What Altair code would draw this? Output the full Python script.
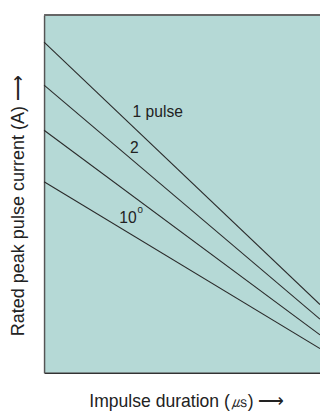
import altair as alt
import pandas as pd

# Line endpoints (abstract log-scaled units)
series = ["1 pulse", "2", "3", "10^6"]
x_start = [0, 0, 0, 0]
x_end = [10, 10, 10, 10]
y_start = [92.4, 80.4, 67.8, 53.4]
y_end = [19.1, 15.0, 10.6, 6.8]

# Curve labels
label_text = ["1 pulse", "2", "10", "0"]
label_x = [4.12, 3.27, 3.04, 3.48]
label_y = [73.0, 62.9, 43.2, 45.4]
label_size = [16, 16, 16, 10]

rows = []
for s, xs, xe, ys, ye in zip(series, x_start, x_end, y_start, y_end):
    rows.append({"series": s, "x": xs, "y": ys})
    rows.append({"series": s, "x": xe, "y": ye})
lines_df = pd.DataFrame(rows)
labels_df = pd.DataFrame({"text": label_text, "x": label_x, "y": label_y, "size": label_size})

FONT = "Liberation Sans"

xscale = alt.Scale(domain=[0, 10], nice=False, zero=False)
yscale = alt.Scale(domain=[0, 100], nice=False, zero=False)

xaxis = alt.Axis(
    title="Impulse duration (\u33b2)  \u27f6",
    labels=False, ticks=False, grid=False,
    domainColor="#333333", domainWidth=1.5,
    titleFont=FONT, titleFontSize=18, titleFontWeight="normal", titleColor="#222222",
    titleX=146, titleY=29, titleAlign="center", titleBaseline="middle",
)
yaxis = alt.Axis(
    title="Rated peak pulse current (A)  \u27f6",
    labels=False, ticks=False, grid=False,
    domainColor="#555555", domainWidth=1.5,
    titleFont=FONT, titleFontSize=18.5, titleFontWeight="normal", titleColor="#222222",
    titleX=-27, titleY=195, titleAlign="center", titleBaseline="middle", titleAngle=270,
)

lines = alt.Chart(lines_df).mark_line(color="#2a2a2a", strokeWidth=1.1).encode(
    x=alt.X("x:Q", scale=xscale, axis=xaxis),
    y=alt.Y("y:Q", scale=yscale, axis=yaxis),
    detail="series:N",
)

labels = alt.Chart(labels_df).mark_text(font=FONT, color="#222222", align="center", baseline="middle").encode(
    x=alt.X("x:Q", scale=xscale),
    y=alt.Y("y:Q", scale=yscale),
    text="text:N",
    size=alt.Size("size:Q", scale=None, legend=None),
)

top_border = alt.Chart(pd.DataFrame({"x": [0]})).mark_rule(color="#666666", strokeWidth=2).encode(
    x=alt.value(0), x2=alt.value(283), y=alt.value(0)
)

chart = alt.layer(lines, labels, top_border).properties(
    width=283, height=367,
    background="white",
    autosize=alt.AutoSizeParams(type="none"),
    padding={"left": 37, "top": 2, "right": 0, "bottom": 38},
).configure_view(fill="#b5d9d6", stroke=None)

chart.save("out.html", embed_options={"renderer": "svg", "actions": False})
